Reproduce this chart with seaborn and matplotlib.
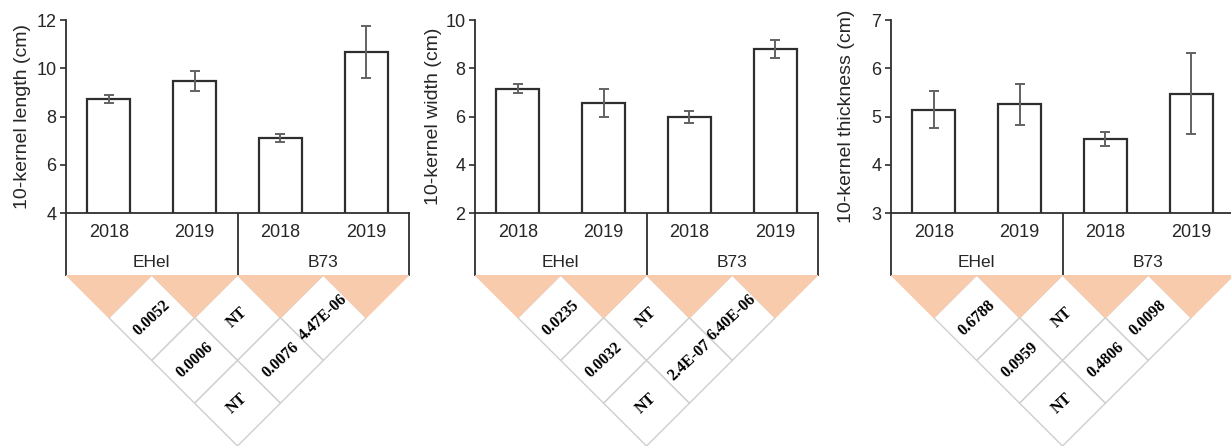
import matplotlib
matplotlib.use("Agg")
import matplotlib.pyplot as plt
from matplotlib.patches import Polygon
import seaborn as sns
import pandas as pd

# 数据
conditions = ["EHel 2018", "EHel 2019", "B73 2018", "B73 2019"]
years = ["2018", "2019", "2018", "2019"]
groups = ["EHel", "B73"]

length_mean = [8.73, 9.46, 7.12, 10.69]
length_err = [0.16, 0.41, 0.16, 1.08]
width_mean = [7.15, 6.56, 5.97, 8.79]
width_err = [0.18, 0.60, 0.25, 0.37]
thick_mean = [5.14, 5.25, 4.53, 5.47]
thick_err = [0.38, 0.43, 0.15, 0.84]

# 配对顺序: (0,1) (1,2) (2,3) (0,2) (1,3) (0,3)
pairs = [(0, 1), (1, 2), (2, 3), (0, 2), (1, 3), (0, 3)]
length_p = ["0.0052", "NT", "4.47E-06", "0.0006", "0.0076", "NT"]
width_p = ["0.0235", "NT", "6.40E-06", "0.0032", "2.4E-07", "NT"]
thick_p = ["0.6788", "NT", "0.0098", "0.0959", "0.4806", "NT"]

panels = [
    ("10-kernel length (cm)", length_mean, length_err, length_p, (4, 12), 2),
    ("10-kernel width (cm)", width_mean, width_err, width_p, (2, 10), 2),
    ("10-kernel thickness (cm)", thick_mean, thick_err, thick_p, (3, 7), 1),
]

sns.set_style("ticks")
plt.rcParams["font.family"] = ["Liberation Sans", "DejaVu Sans"]

W, H = 1231, 446
fig = plt.figure(figsize=(W / 100, H / 100), dpi=100)

dark = "#2e2e2e"
orange = "#F8CBAD"
grid_gray = "#cfcfcf"

lefts = [66, 475, 891]
label_off = [35, 33, 36]
pw = 343
y_top, y_axis, y_tab = 20, 213, 275

for k, (ylabel, means, errs, pvals, ylim, step) in enumerate(panels):
    x0 = lefts[k] / W
    w = pw / W
    ax = fig.add_axes([x0, (H - y_axis) / H, w, (y_axis - y_top) / H])
    df = pd.DataFrame({"cond": conditions, "value": means})
    sns.barplot(data=df, x="cond", y="value", ax=ax, color="white",
                edgecolor=dark, linewidth=1.6, width=0.5, saturation=1,
                errorbar=None)
    ax.errorbar(range(len(means)), means, yerr=errs, fmt="none",
                ecolor="#626262", elinewidth=1.4, capsize=3.5, capthick=1.4)
    ax.set_xlim(-0.5, 3.5)
    ax.set_ylim(*ylim)
    ax.set_yticks(range(ylim[0], ylim[1] + 1, step))
    ax.set_xticks([])
    ax.set_xlabel("")
    ax.set_ylabel(ylabel, fontsize=14)
    ax.yaxis.set_label_coords(-label_off[k] / pw, 0.5)
    for s in ["top", "right"]:
        ax.spines[s].set_visible(False)
    for s in ["left", "bottom"]:
        ax.spines[s].set_color(dark)
        ax.spines[s].set_linewidth(1.3)
    ax.tick_params(axis="y", direction="out", length=4, width=1.2,
                   color=dark, labelsize=13, pad=3)

    # 表格区域（年份 / 品系）
    tab = fig.add_axes([x0, (H - y_tab) / H, w, (y_tab - y_axis) / H])
    tab.set_xlim(-0.5, 3.5)
    tab.set_ylim(0, 1)
    tab.set_xticks([])
    tab.set_yticks([])
    tab.patch.set_alpha(0)
    for s in ["top", "bottom"]:
        tab.spines[s].set_visible(False)
    for s in ["left", "right"]:
        tab.spines[s].set_color(dark)
        tab.spines[s].set_linewidth(1.3)
    tab.axvline(1.5, color=dark, lw=1.3)
    for i, yr in enumerate(years):
        tab.text(i, 0.68, yr, ha="center", va="center", fontsize=13)
    for g, name in enumerate(groups):
        tab.text(2 * g + 0.5, 0.2, name, ha="center", va="center", fontsize=12.5)

    # 三角形 p 值矩阵
    tri = fig.add_axes([x0, 0, w, (H - y_tab) / H])
    tri.set_xlim(-0.5, 3.5)
    tri.set_ylim(-2.0, 0)
    tri.axis("off")
    for (i, j), p in zip(pairs, pvals):
        cx, cy = (i + j) / 2, -(j - i) / 2
        diamond = Polygon([(cx, cy + 0.5), (cx + 0.5, cy), (cx, cy - 0.5),
                           (cx - 0.5, cy)], closed=True, facecolor="white",
                          edgecolor=grid_gray, lw=1.0, zorder=1)
        tri.add_patch(diamond)
        tri.text(cx, cy, p, rotation=43, ha="center", va="center",
                 fontsize=11.5, fontweight="bold", color="black",
                 family=["Liberation Serif", "DejaVu Serif"], zorder=3)
    for i in range(len(means)):
        tri.add_patch(Polygon([(i - 0.5, 0), (i + 0.5, 0), (i, -0.5)],
                              closed=True, facecolor=orange, edgecolor=orange,
                              lw=0.8, zorder=2))

fig.savefig("out.png", dpi=100)
